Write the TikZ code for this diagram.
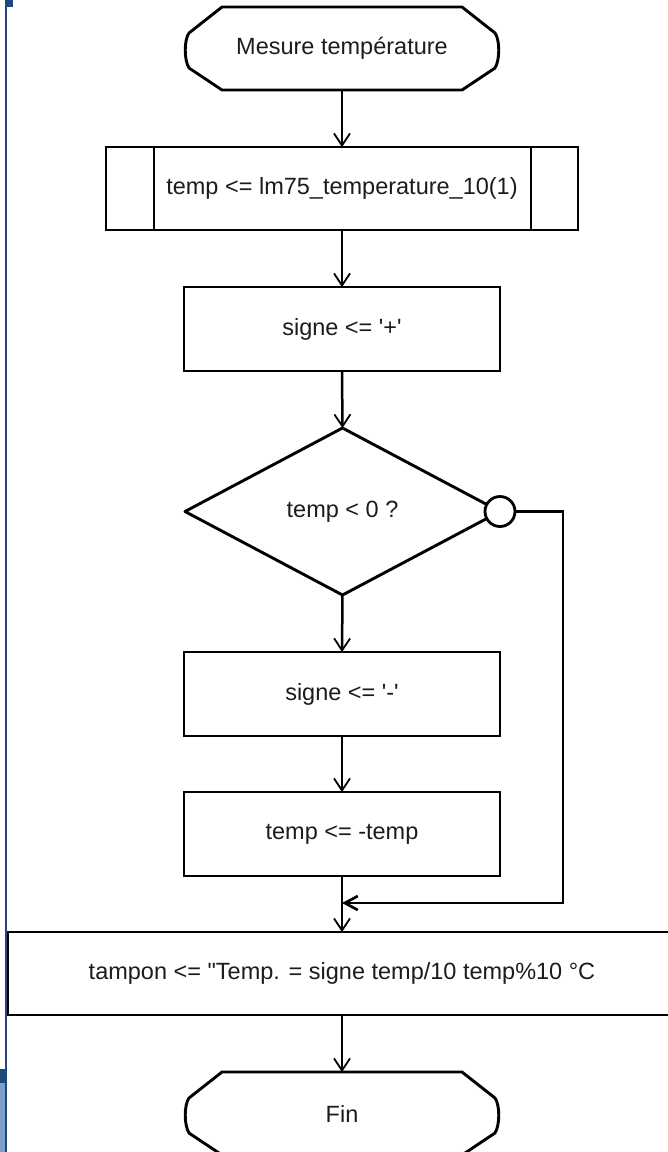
\documentclass[tikz,border=0pt]{standalone}
\usepackage{fontspec}
\setmainfont{Liberation Sans}
\usetikzlibrary{arrows.meta,shapes.geometric,calc}
\definecolor{ink}{RGB}{28,28,28}
\definecolor{bluedark}{RGB}{31,73,125}
\definecolor{bluelight}{RGB}{125,158,199}
\newcommand\termshape[1]{%
  \draw[line width=2.9pt,line join=round]
    ($(#1.north west)+(38,0)$) -- ($(#1.north east)+(-38,0)$)
    -- ($(#1.north east)+(-5,26)$)
    .. controls ($(#1.north east)+(0,33)$) and ($(#1.north east)+(0,53)$) .. ($(#1.north east)+(-5,61)$)
    -- ($(#1.south east)+(-38,0)$) -- ($(#1.south west)+(38,0)$)
    -- ($(#1.north west)+(5,61)$)
    .. controls ($(#1.north west)+(0,53)$) and ($(#1.north west)+(0,33)$) .. ($(#1.north west)+(5,26)$)
    -- cycle;}
\begin{document}
\begin{tikzpicture}[x=1pt,y=-1pt,
  every node/.style={font=\fontsize{23.5}{28}\selectfont, text=ink, outer sep=0pt, inner sep=0pt},
  box/.style={draw=black, line width=2.9pt, rectangle, minimum width=316pt, minimum height=84pt, fill=white},
  term/.style={rectangle, minimum width=316pt, minimum height=83pt},
  dec/.style={draw=black, line width=2.9pt, line join=round, diamond, minimum width=315pt, minimum height=167pt, fill=white},
  conn/.style={draw=black, line width=2.5pt},
  arr/.style={conn, -{Straight Barb[length=12pt,width=16pt,line width=1.8pt]}},
  arrb/.style={conn, -{Straight Barb[length=13pt,width=14pt,line width=2.7pt]}}]
\useasboundingbox (0,0) rectangle (668,1152);
\clip (0,0) rectangle (668,1152);
\fill[white] (0,0) rectangle (668,1152);
% window edge decorations
\fill[bluedark] (4.5,0) rectangle (6.5,1152);
\fill[bluedark] (5,0) rectangle (13,7);
\fill[bluedark] (0,1069) rectangle (5,1083);
\fill[bluelight] (0,1083) rectangle (4.5,1152);
% nodes
\node[term] (start) at (342,48.5) {Mesure température};
\termshape{start}
\node[box, minimum width=472pt, minimum height=83pt] (b1) at (342,188.5) {temp <= lm75\_temperature\_10(1)};
\draw[line width=2.9pt] ($(b1.north west)+(48,0)$) -- ($(b1.south west)+(48,0)$);
\draw[line width=2.9pt] ($(b1.north east)+(-47,0)$) -- ($(b1.south east)+(-47,0)$);
\node[box] (b2) at (342,329) {signe <= \textquotesingle+\textquotesingle};
\node[dec] (d) at (342.5,511.5) {temp < 0 ?};
\node[circle, draw=black, line width=2.8pt, fill=white, minimum size=30pt] (c) at (d.east) {};
\node[box] (b3) at (342,694) {signe <= \textquotesingle-\textquotesingle};
\node[box] (b4) at (342,834) {temp <= -temp};
\node[box, minimum width=668pt, minimum height=83pt] (t) at (342,973.5) {tampon <= \textquotedbl Temp. = signe temp/10 temp\%10 °C};
\node[term] (fin) at (342,1113.5) {Fin};
\termshape{fin}
\coordinate (j) at (342,903);
\coordinate (r) at (563,903);
% connectors
\draw[arr] (start.south) -- (b1.north);
\draw[arr] (b1.south) -- (b2.north);
\draw[arr] (b2.south) -- (d.north);
\draw[arr] (d.south) -- (b3.north);
\draw[arr] (b3.south) -- (b4.north);
\draw[arr] (b4.south) -- (t.north);
\draw[arrb] (c.east) -| (r) -- (j);
\draw[arr] (t.south) -- (fin.north);
\end{tikzpicture}
\end{document}
